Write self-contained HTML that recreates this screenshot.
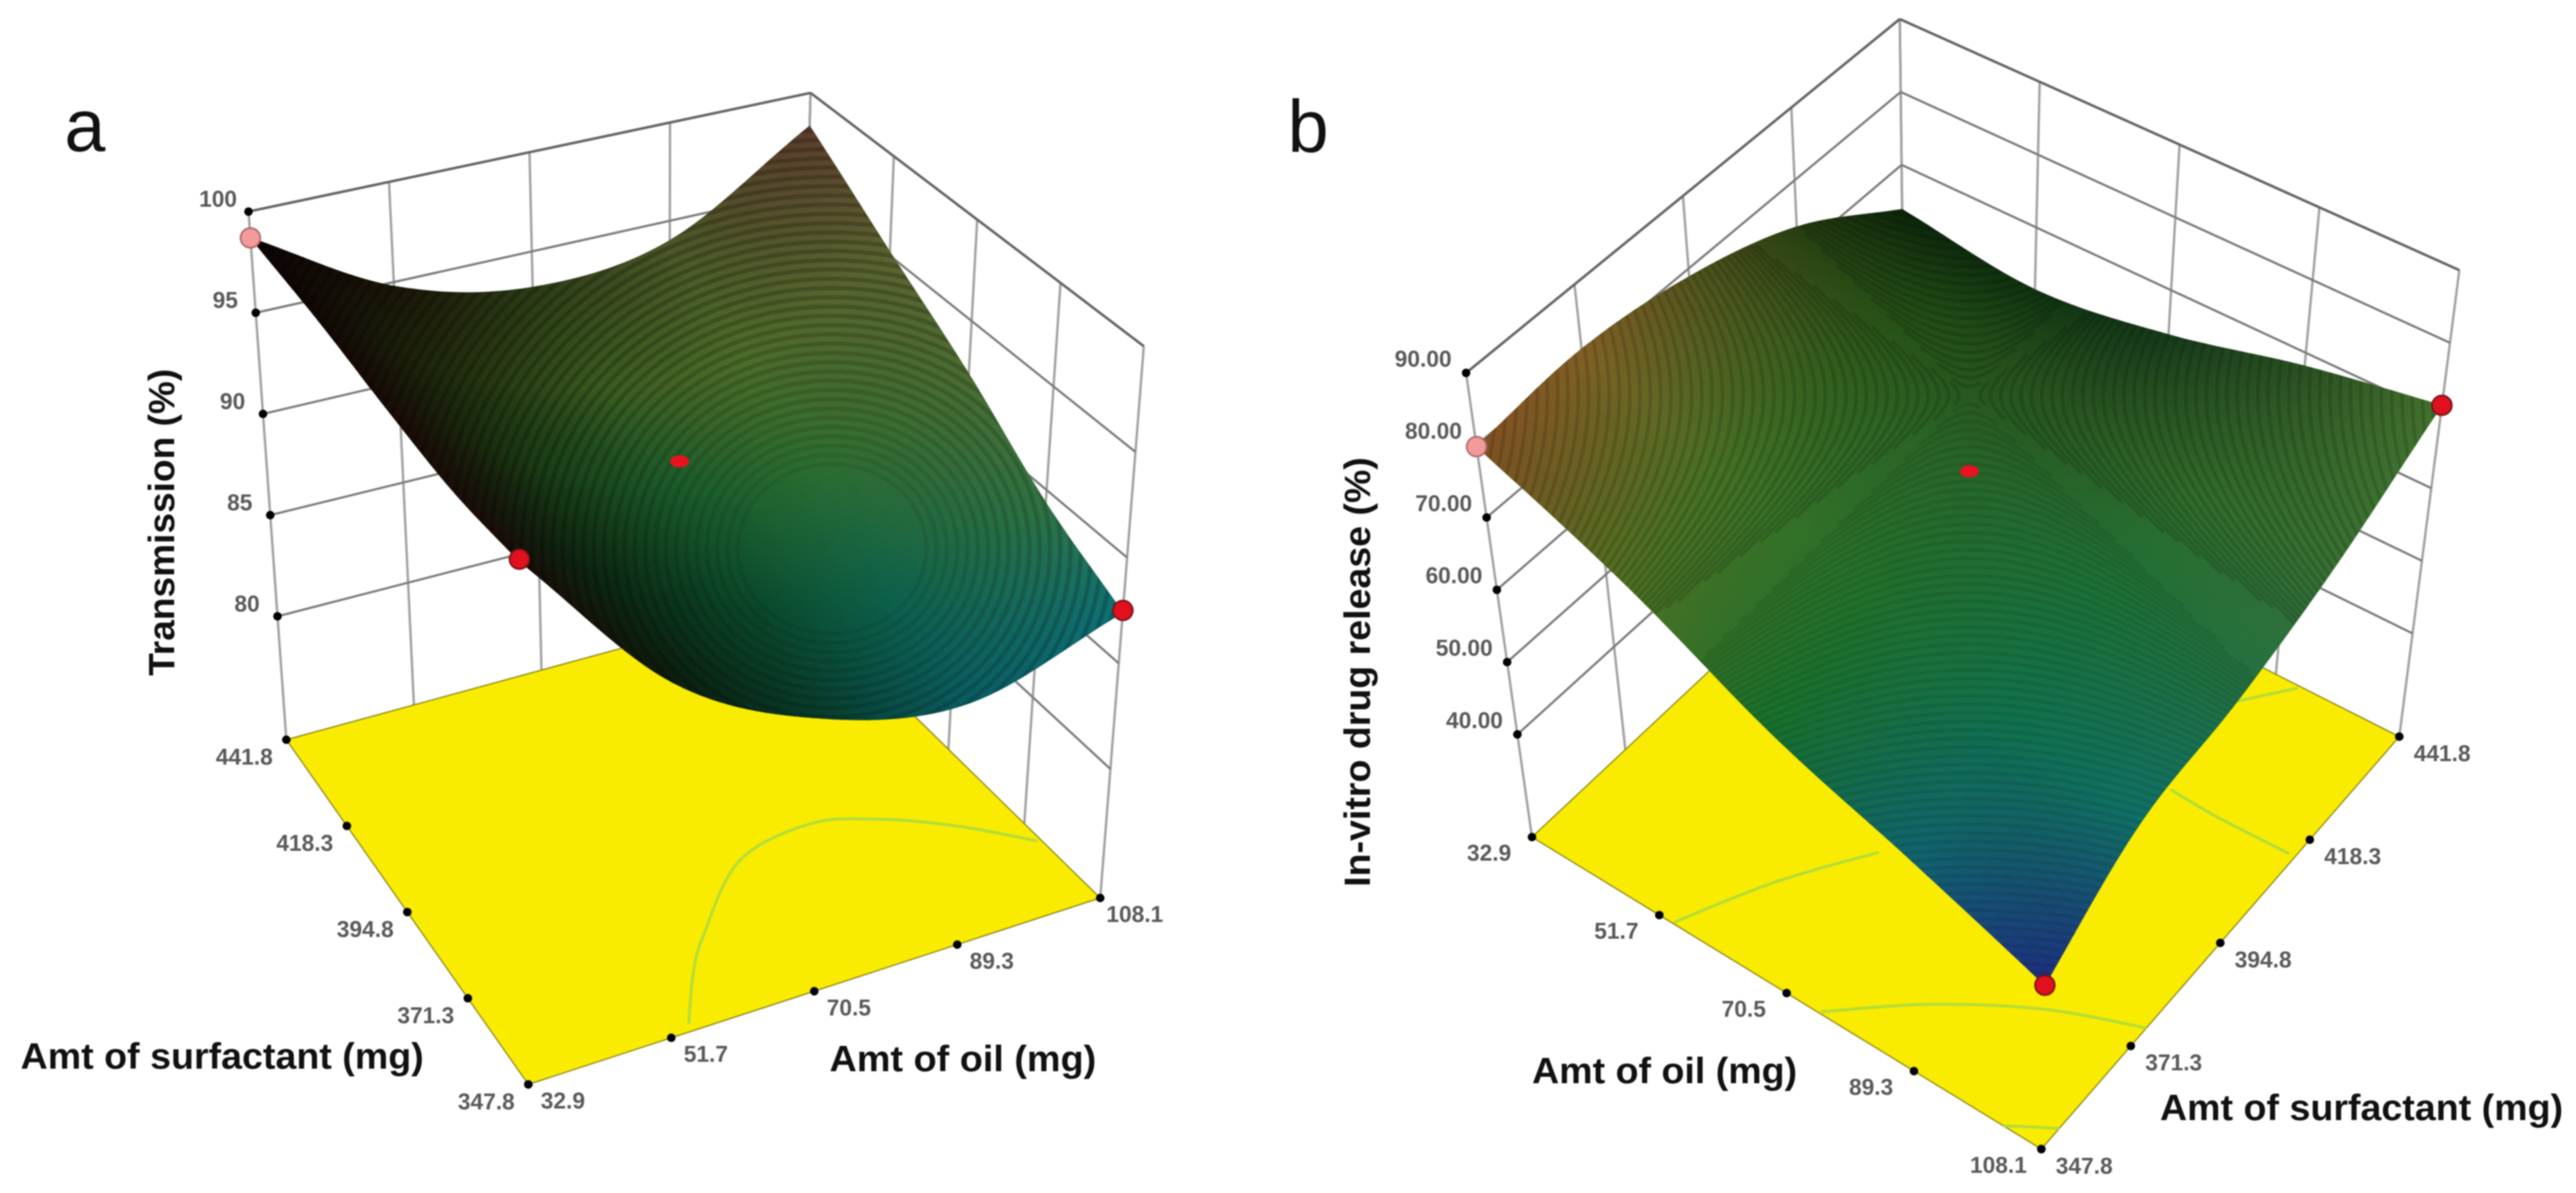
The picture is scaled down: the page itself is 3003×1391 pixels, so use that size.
<!DOCTYPE html>
<html lang="en">
<head>
<meta charset="utf-8">
<title>Response surface plots</title>
<style>
html,body{margin:0;padding:0;background:#fff;overflow:hidden;}
svg{display:block;filter:blur(0.8px);}
text{font-family:"Liberation Sans",Arial,sans-serif;}
</style>
</head>
<body>
<svg id="figure" xmlns="http://www.w3.org/2000/svg" width="3003" height="1391" viewBox="0 0 3003 1391">
<rect x="0" y="0" width="3003" height="1391" fill="#ffffff"></rect>
<g id="panelA"></g>
<g id="panelB" transform="translate(1500,0)"></g>
</svg>
<script>
// ---------- shared axis data ----------
const oilTicks = [32.9, 51.7, 70.5, 89.3, 108.1];
const surfactantTicks = [347.8, 371.3, 394.8, 418.3, 441.8];
const oilTickLabels = ["32.9", "51.7", "70.5", "89.3", "108.1"];
const surfactantTickLabels = ["347.8", "371.3", "394.8", "418.3", "441.8"];

// ---------- panel a: Transmission (%) ----------
const transmissionTicks = [80, 85, 90, 95, 100];
const transmissionTickLabels = ["80", "85", "90", "95", "100"];
// one row per surfactant tick, one value per oil tick
const transmissionAtSurf347 = [97.5, 90.1, 86.5, 85.2, 87.4];
const transmissionAtSurf371 = [97.3, 91.6, 88.2, 87.0, 89.4];
const transmissionAtSurf395 = [97.7, 93.2, 90.4, 89.5, 92.4];
const transmissionAtSurf418 = [98.3, 94.0, 91.8, 91.5, 95.2];
const transmissionAtSurf442 = [98.7, 94.8, 93.2, 94.0, 98.3];
const transmissionPointOil = [32.9, 32.9, 108.1];
const transmissionPointSurf = [441.8, 347.8, 347.8];
const transmissionPointValue = [98.7, 97.6, 87.5];
const transmissionCenter = [70.5, 394.8, 91.7];
const transmissionContourOil = [54.7, 59.1, 63.6, 74.4, 85.5, 92.9, 100.7, 107.6];
const transmissionContourSurf = [349.7, 360.2, 368.5, 383.4, 387.0, 383.5, 376.0, 366.2];

// ---------- panel b: In-vitro drug release (%) ----------
const releaseTicks = [40, 50, 60, 70, 80, 90];
const releaseTickLabels = ["40.00", "50.00", "60.00", "70.00", "80.00", "90.00"];
const releaseAtSurf347 = [79.8, 70.8, 60.8, 54.0, 47.4];
const releaseAtSurf371 = [81.1, 74.0, 66.0, 60.0, 55.7];
const releaseAtSurf395 = [78.9, 74.0, 68.5, 63.0, 58.5];
const releaseAtSurf418 = [73.6, 69.5, 66.5, 64.0, 63.5];
const releaseAtSurf442 = [63.9, 61.5, 63.9, 68.2, 71.4];
const releasePointOil = [32.9, 108.1, 108.1];
const releasePointSurf = [347.8, 347.8, 441.8];
const releasePointValue = [79.8, 47.4, 71.4];
const releaseCenter = [70.5, 394.8, 70.9];
const releaseContour1Oil = [53.7, 59.4, 66.4];
const releaseContour1Surf = [348.1, 364.3, 378.6];
const releaseContour2Oil = [75.4, 84.9, 96.5, 108.1];
const releaseContour2Surf = [348.2, 359.4, 369.2, 375.4];
const releaseContour3Oil = [89.3, 96.4, 107.2];
const releaseContour3Surf = [414.5, 414.1, 414.4];
const releaseContour4Oil = [86.0, 92.9];
const releaseContour4Surf = [431.6, 441.4];
const releaseContour5Oil = [102.5, 105.3, 108.1];
const releaseContour5Surf = [347.8, 350.2, 352.5];

// ---------- styling tables (surface tint by grid position) ----------
const tintA = [
  ["#1c0c08","#0c1c0c","#083a2a","#0a5a60","#0e6e72"],
  ["#1a0e08","#0c2812","#0a4528","#0d5f4a","#2f7040"],
  ["#1a0a06","#1a3a14","#1a5a2a","#2a6a30","#4a6a30"],
  ["#120806","#22300e","#3a5a20","#4a6a28","#5a6030"],
  ["#0c0404","#1a1408","#2a3a14","#4a5528","#5a3a2a"]
];
const tintB = [
  ["#7a4a20","#4a6a20","#156a2a","#0f5e68","#1c2a78"],
  ["#7a5a22","#3f6a22","#1f6a2a","#106a48","#0f6a60"],
  ["#4f4f1c","#2f5a1c","#24622a","#1a6a35","#1f6a40"],
  ["#243a10","#1f4a15","#264f1e","#2f6528","#356a30"],
  ["#0a2208","#103010","#15361a","#284a20","#3f6a2a"]
];

const NS = "http://www.w3.org/2000/svg";
function svgEl(tag, attrs, parent) {
  const el = document.createElementNS(NS, tag);
  for (const k in attrs) el.setAttribute(k, attrs[k]);
  if (parent) parent.appendChild(el);
  return el;
}
function lerp(a, b, t) { return a + (b - a) * t; }
function bilin(c, u, v) {
  return [
    (1-u)*(1-v)*c[0][0] + u*(1-v)*c[1][0] + (1-u)*v*c[2][0] + u*v*c[3][0],
    (1-u)*(1-v)*c[0][1] + u*(1-v)*c[1][1] + (1-u)*v*c[2][1] + u*v*c[3][1]
  ];
}
function makeAxes(cfg) {
  const oilMin = oilTicks[0], oilMax = oilTicks[oilTicks.length-1];
  const sMin = surfactantTicks[0], sMax = surfactantTicks[surfactantTicks.length-1];
  const uOf = o => (o - oilMin) / (oilMax - oilMin);
  const vOf = s => (s - sMin) / (sMax - sMin);
  const project = (o, s, z) => {
    const u = uOf(o), v = vOf(s);
    const f = bilin(cfg.floor, u, v), t = bilin(cfg.top, u, v);
    const w = (z - cfg.zMin) / (cfg.zMax - cfg.zMin);
    return [lerp(f[0], t[0], w), lerp(f[1], t[1], w)];
  };
  return { project, uOf, vOf, oilMin, oilMax, sMin, sMax };
}
function catmull(p0, p1, p2, p3, t) {
  return 0.5 * (2*p1 + (p2-p0)*t + (2*p0-5*p1+4*p2-p3)*t*t + (3*p1-p0-3*p2+p3)*t*t*t);
}
// samples with linear extension past the ends so corners stay sharp
function at(arr, i) {
  const n = arr.length - 1;
  if (i < 0) return 2*arr[0] - arr[1];
  if (i > n) return 2*arr[n] - arr[n-1];
  return arr[i];
}
function gridValue(grid, u, v) {
  const n = grid.length - 1, m = grid[0].length - 1;
  const fv = Math.min(v * n, n - 1e-6), fu = Math.min(u * m, m - 1e-6);
  const j = Math.floor(fv), i = Math.floor(fu);
  const rowAt = r => catmull(at(grid[r], i-1), at(grid[r], i), at(grid[r], i+1), at(grid[r], i+2), fu - i);
  const cols = [];
  for (let r = 0; r <= n; r++) cols.push(rowAt(r));
  return catmull(at(cols, j-1), at(cols, j), at(cols, j+1), at(cols, j+2), fv - j);
}
function hexRgb(h) { return [parseInt(h.substr(1,2),16), parseInt(h.substr(3,2),16), parseInt(h.substr(5,2),16)]; }
function tintAt(table, u, v, gain) {
  const n = table.length - 1, m = table[0].length - 1;
  const fv = Math.min(v*n, n-1e-6), fu = Math.min(u*m, m-1e-6);
  const j = Math.floor(fv), i = Math.floor(fu), a = fu-i, b = fv-j;
  const c00 = hexRgb(table[j][i]), c10 = hexRgb(table[j][i+1]), c01 = hexRgb(table[j+1][i]), c11 = hexRgb(table[j+1][i+1]);
  const out = [0,1,2].map(k => Math.min(255, Math.round(gain * ((1-a)*(1-b)*c00[k] + a*(1-b)*c10[k] + (1-a)*b*c01[k] + a*b*c11[k]))));
  return "rgb(" + out.join(",") + ")";
}
function smoothPath(pts) {
  let d = "M" + pts[0][0].toFixed(1) + " " + pts[0][1].toFixed(1);
  for (let i = 0; i < pts.length - 1; i++) {
    const p0 = pts[Math.max(0,i-1)], p1 = pts[i], p2 = pts[i+1], p3 = pts[Math.min(pts.length-1,i+2)];
    d += " C" + (p1[0]+(p2[0]-p0[0])/6).toFixed(1) + " " + (p1[1]+(p2[1]-p0[1])/6).toFixed(1) + " " +
         (p2[0]-(p3[0]-p1[0])/6).toFixed(1) + " " + (p2[1]-(p3[1]-p1[1])/6).toFixed(1) + " " +
         p2[0].toFixed(1) + " " + p2[1].toFixed(1);
  }
  return d;
}
// decorative mesh shimmer curves (screen-space texture, not data)
function ringLines(cx, cy, pitch) {
  const out = [];
  for (let r = 110; r < 1000; r += pitch) {
    const pts = [];
    const n = Math.max(48, Math.round(r * 0.7));
    for (let k = 0; k <= n; k++) {
      const a = k / n * Math.PI * 2;
      pts.push([cx + r * Math.cos(a), cy + 0.9 * r * Math.sin(a)]);
    }
    out.push({ pts: pts, op: Math.min(0.2, 0.07 + (r - 110) / 1800) });
  }
  return out;
}
function saddleLines(cx, cy, pitch, k) {
  const out = [];
  for (let c = pitch; c < 1000; c += pitch) {
    [[1,0,0.13],[-1,0,0.13],[1,1,0.08],[-1,1,0.13]].forEach(f => {
      const pts = [];
      const lim = 1.6 * c;
      for (let w = -lim; w <= lim; w += Math.max(8, lim / 30)) {
        const h = f[0] * Math.sqrt(c*c + w*w);
        pts.push(f[1] === 0 ? [cx + h, cy + w / k] : [cx + w, cy + h / k]);
      }
      out.push({ pts: pts, op: f[2] });
    });
  }
  return out;
}
function drawPanel(root, cfg) {
  const ax = makeAxes(cfg);
  const P = ax.project;

  // back walls
  const walls = svgEl("g", {}, root);
  
  
  function seg(a, b, col, sw) {
    const l = svgEl("line", { x1: a[0], y1: a[1], x2: b[0], y2: b[1], stroke: col, "stroke-width": sw, fill: "none" }, walls);
    
    
  }
  oilTicks.forEach(o => seg(P(o, cfg.wallSurf, cfg.zMin), P(o, cfg.wallSurf, cfg.zMax), "#a2a2a2", 2.8));
  surfactantTicks.forEach(s => seg(P(cfg.wallOil, s, cfg.zMin), P(cfg.wallOil, s, cfg.zMax), "#a2a2a2", 2.8));
  cfg.zTicks.forEach(z => {
    seg(P(cfg.wallOil, ax.sMin, z), P(cfg.wallOil, ax.sMax, z), "#7c7c7c", 2.6);
    seg(P(ax.oilMin, cfg.wallSurf, z), P(ax.oilMax, cfg.wallSurf, z), "#7c7c7c", 2.6);
  });
  seg(P(cfg.wallOil, ax.sMin, cfg.zMax), P(cfg.wallOil, ax.sMax, cfg.zMax), "#666666", 3);
  seg(P(ax.oilMin, cfg.wallSurf, cfg.zMax), P(ax.oilMax, cfg.wallSurf, cfg.zMax), "#666666", 3);

  // floor
  const c = [P(ax.oilMin, ax.sMin, cfg.zMin), P(ax.oilMax, ax.sMin, cfg.zMin), P(ax.oilMax, ax.sMax, cfg.zMin), P(ax.oilMin, ax.sMax, cfg.zMin)];
  const floor = svgEl("polygon", { points: c.map(p => p.join(",")).join(" "), fill: "#f9ec00", stroke: "#8f8a20", "stroke-width": 1.5 }, root);
  
  

  // contours on floor
  cfg.contours.forEach(ct => {
    const pts = ct[0].map((o, i) => P(o, ct[1][i], cfg.zMin));
    const path = svgEl("path", { d: smoothPath(pts), fill: "none", stroke: "#b4dc38", "stroke-width": 3.4 }, root);
    
    
  });

  function label(txt, x, y) {
    const t = svgEl("text", { x: x, y: y + 9.5, "text-anchor": "middle", "font-size": 26.5, "font-weight": "bold", fill: "#5a5a5a" }, root);
    
    
    t.textContent = txt;
  }
  function dot(p) {
    const d = svgEl("circle", { cx: p[0], cy: p[1], r: 5, fill: "#000" }, root);
    
    
  }

  // surface
  const surf = svgEl("g", {}, root);
  
  
  const N = 64;
  const us = [], vs = [];
  for (let i = 0; i < N; i++) us.push(cfg.frontOilLow ? N-1-i : i);
  for (let j = 0; j < N; j++) vs.push(N-1-j);
  const oilAt = u => lerp(ax.oilMin, ax.oilMax, u), surfAt = v => lerp(ax.sMin, ax.sMax, v);
  const vertex = (u, v) => P(oilAt(u), surfAt(v), gridValue(cfg.grid, u, v));
  vs.forEach(j => {
    us.forEach(i => {
      const u0 = i/N, u1 = (i+1)/N, v0 = j/N, v1 = (j+1)/N;
      const corners = [[u0,v0],[u1,v0],[u1,v1],[u0,v1]].map(q => vertex(q[0], q[1]));
      const col = tintAt(cfg.tint, (u0+u1)/2, (v0+v1)/2, cfg.gain);
      const poly = svgEl("polygon", { points: corners.map(p => p[0].toFixed(1) + "," + p[1].toFixed(1)).join(" "), fill: col, stroke: col, "stroke-width": 0.8 }, surf);
      
      
    });
  });

  // surface mesh shimmer, clipped to the surface outline and kept inside its box
  const outline = [];
  for (let i = 0; i <= N; i++) outline.push(vertex(i/N, 0));
  for (let i = 0; i <= N; i++) outline.push(vertex(1, i/N));
  for (let i = N; i >= 0; i--) outline.push(vertex(i/N, 1));
  for (let i = N; i >= 0; i--) outline.push(vertex(0, i/N));
  const xs = outline.map(p => p[0]), ys = outline.map(p => p[1]);
  const minX = Math.min.apply(null, xs), maxX = Math.max.apply(null, xs), minY = Math.min.apply(null, ys), maxY = Math.max.apply(null, ys);
  const inside = p => p[0] >= minX && p[0] <= maxX && p[1] >= minY && p[1] <= maxY;
  const clip = svgEl("clipPath", { id: cfg.clipId }, root);
  svgEl("polygon", { points: outline.map(p => p[0].toFixed(1) + "," + p[1].toFixed(1)).join(" ") }, clip);
  const mesh = svgEl("g", { "clip-path": "url(#" + cfg.clipId + ")", fill: "none", stroke: "#000", "stroke-width": cfg.meshWidth }, root);
  
  
  cfg.shimmer.forEach(line => {
    let d = "", pen = false;
    line.pts.forEach(p => {
      if (inside(p)) {
        d += (pen ? " L" : " M") + p[0].toFixed(1) + " " + p[1].toFixed(1);
        pen = true;
      } else {
        pen = false;
      }
    });
    if (d) svgEl("path", { d: d, "stroke-opacity": line.op }, mesh);
  });

  // axis ticks
  cfg.zTicks.forEach((z, i) => {
    const p = P(cfg.zAxisOil, cfg.zAxisSurf, z);
    dot(p);
    label(cfg.zLabels[i], p[0] + cfg.zOffset[0], p[1] + cfg.zOffset[1]);
  });
  oilTicks.forEach((o, i) => {
    const p = P(o, ax.sMin, cfg.zMin);
    dot(p);
    label(oilTickLabels[i], p[0] + cfg.oilOffset[0], p[1] + cfg.oilOffset[1]);
  });
  surfactantTicks.forEach((s, i) => {
    const p = P(cfg.surfAxisOil, s, cfg.zMin);
    dot(p);
    label(surfactantTickLabels[i], p[0] + cfg.surfOffset[0], p[1] + cfg.surfOffset[1]);
  });

  // design points
  cfg.pointOil.forEach((o, i) => {
    const p = P(o, cfg.pointSurf[i], cfg.pointValue[i]);
    const pink = i === 0;
    const m = svgEl("circle", { cx: p[0], cy: p[1], r: 11.5, fill: pink ? "#f39a9a" : "#e0101f", stroke: pink ? "#b06a6a" : "#7c1414", "stroke-width": 2 }, root);
    
    
  });
  const cp = P(cfg.center[0], cfg.center[1], cfg.center[2]);
  const cm = svgEl("ellipse", { cx: cp[0], cy: cp[1], rx: 11, ry: 7, fill: "#ea1220" }, root);
  
  

  // titles
  cfg.titles.forEach(tt => {
    const attrs = { "font-size": 43, "font-weight": "bold", fill: "#111", textLength: tt.len, lengthAdjust: "spacingAndGlyphs" };
    if (tt.rot) { attrs.transform = "translate(" + tt.x + "," + tt.y + ") rotate(-90)"; attrs.x = 0; attrs.y = 0; }
    else { attrs.x = tt.x; attrs.y = tt.y; }
    const t = svgEl("text", attrs, root);
    
    
    t.textContent = tt.text;
  });
  const pl = svgEl("text", { x: cfg.panelLabel.x, y: cfg.panelLabel.y, "font-size": 86, fill: "#111" }, root);
  
  
  pl.textContent = cfg.panelLabel.text;
}

drawPanel(document.getElementById("panelA"), {
  zMin: 73.9, zMax: 100, clipId: "clipSurfaceA", gain: 1.02, meshWidth: 5,
  floor: [[615.9,1264.4],[1282.6,1047],[333.8,862.5],[928.6,700.1]],
  top: [[604.4,590],[1333.4,403.7],[289.7,246.7],[944.9,108.3]],
  wallOil: 108.1, wallSurf: 441.8,
  zAxisOil: 32.9, zAxisSurf: 441.8, surfAxisOil: 32.9,
  zTicks: transmissionTicks, zLabels: transmissionTickLabels,
  zOffset: [-35.5,-15], oilOffset: [40.3,18.6], surfOffset: [-49,19.5],
  grid: [transmissionAtSurf347, transmissionAtSurf371, transmissionAtSurf395, transmissionAtSurf418, transmissionAtSurf442],
  tint: tintA, frontOilLow: true,
  shimmer: ringLines(970, 640, 12),
  contours: [[transmissionContourOil, transmissionContourSurf]],
  pointOil: transmissionPointOil, pointSurf: transmissionPointSurf, pointValue: transmissionPointValue,
  center: transmissionCenter,
  titles: [
    { text: "Transmission (%)", name: "z-axis-title", x: 203, y: 788, len: 358, rot: true },
    { text: "Amt of surfactant (mg)", name: "surfactant-axis-title", x: 24, y: 1246, len: 470 },
    { text: "Amt of oil (mg)", name: "oil-axis-title", x: 967, y: 1249, len: 311 }
  ],
  panelLabel: { text: "a", x: 75, y: 176 }
});

drawPanel(document.getElementById("panelB"), {
  zMin: 25.8, zMax: 90, clipId: "clipSurfaceB", gain: 1.06, meshWidth: 4,
  floor: [[285.9,976],[879.7,1339.8],[721.4,567.9],[1297,858.9]],
  top: [[209.1,434.8],[892,772],[714.7,22.2],[1367,315]],
  wallOil: 32.9, wallSurf: 441.8,
  zAxisOil: 32.9, zAxisSurf: 347.8, surfAxisOil: 108.1,
  zTicks: releaseTicks, zLabels: releaseTickLabels,
  zOffset: [-50,-17], oilOffset: [-50,18], surfOffset: [50,19],
  grid: [releaseAtSurf347, releaseAtSurf371, releaseAtSurf395, releaseAtSurf418, releaseAtSurf442],
  tint: tintB, frontOilLow: false,
  shimmer: saddleLines(796, 461, 12, 1.2),
  contours: [
    [releaseContour1Oil, releaseContour1Surf],
    [releaseContour2Oil, releaseContour2Surf],
    [releaseContour3Oil, releaseContour3Surf],
    [releaseContour4Oil, releaseContour4Surf],
    [releaseContour5Oil, releaseContour5Surf]
  ],
  pointOil: releasePointOil, pointSurf: releasePointSurf, pointValue: releasePointValue,
  center: releaseCenter,
  titles: [
    { text: "In-vitro drug release (%)", name: "z-axis-title", x: 97, y: 1034, len: 501, rot: true },
    { text: "Amt of oil (mg)", name: "oil-axis-title", x: 286, y: 1263, len: 309 },
    { text: "Amt of surfactant (mg)", name: "surfactant-axis-title", x: 1018, y: 1306, len: 470 }
  ],
  panelLabel: { text: "b", x: 1, y: 177 }
});
</script>
</body>
</html>
